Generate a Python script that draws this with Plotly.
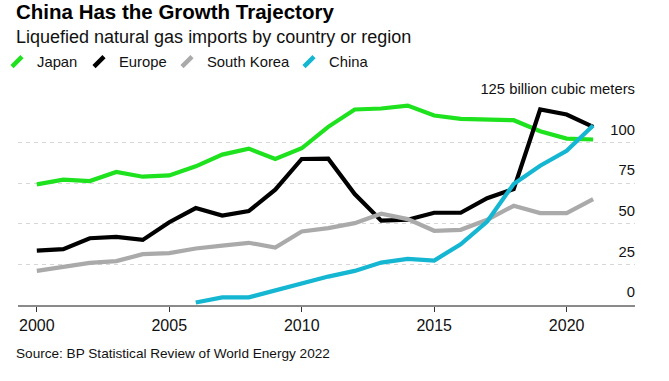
import plotly.graph_objects as go

years = list(range(2000, 2022))
japan = [74.3, 77.2, 76.3, 81.9, 79.0, 79.8, 85.4, 92.6, 96.3, 89.9, 96.5,
         109.7, 120.4, 121.0, 122.8, 116.7, 114.6, 114.4, 113.8, 107.0, 102.5, 101.9]
europe = [33.5, 34.4, 41.1, 42.0, 40.1, 51.0, 59.7, 55.1, 57.8, 71.0, 89.9,
          90.1, 68.3, 51.9, 52.5, 56.8, 56.8, 65.8, 71.4, 120.4, 117.3, 109.7]
south_korea = [21.0, 23.3, 25.9, 27.0, 31.3, 31.9, 34.8, 36.6, 38.3, 35.4, 45.3,
               47.3, 50.4, 56.2, 52.9, 45.7, 46.3, 52.5, 61.1, 56.6, 56.6, 65.2]
china = [None, None, None, None, None, None, 1.5, 4.7, 4.7, 8.8, 13.5,
         17.5, 21.0, 26.1, 28.4, 27.4, 37.4, 51.4, 74.5, 85.8, 95.0, 110.5]

series_names = ["Japan", "Europe", "South Korea", "China"]
series_values = [japan, europe, south_korea, china]
series_colors = ["#1fe21f", "#000000", "#aaaaaa", "#14b6d2"]

y_tickvals = [0, 25, 50, 75, 100, 125]
y_ticktext = ["0", "25", "50", "75", "100", "125 billion cubic meters"]
x_tickvals = [2000, 2005, 2010, 2015, 2020]

FONT = "Liberation Sans, Arial, sans-serif"

W, H = 669, 381
ML, MR, MT, MB = 18, 34, 102, 76
PW = W - ML - MR
PH = H - MT - MB


def px_to_paper_x(p):
    return (p - ML) / PW


def px_to_paper_y(p):
    return (H - MB - p) / PH


fig = go.Figure()

legend_ids = ["legend", "legend2", "legend3", "legend4"]
for name, vals, color in zip(series_names, series_values, series_colors):
    fig.add_trace(go.Scatter(
        x=years, y=vals, mode="lines", name=name,
        line=dict(color=color, width=4.2),
        showlegend=False, hoverinfo="skip",
    ))

for name, color, lid in zip(series_names, series_colors, legend_ids):
    fig.add_trace(go.Scatter(
        x=[None], y=[None], mode="markers", name=name,
        marker=dict(symbol="line-ne", size=10,
                    line=dict(color=color, width=4.5), color=color),
        showlegend=True, legend=lid,
    ))

legend_x_px = [-3, 79, 167, 289]
legend_common = dict(
    orientation="h", yanchor="middle", xanchor="left",
    font=dict(family=FONT, size=14.8, color="#111"),
    bgcolor="rgba(0,0,0,0)", borderwidth=0,
    itemclick=False, itemdoubleclick=False,
)
legend_layout = {}
for lid, xp in zip(legend_ids, legend_x_px):
    legend_layout[lid] = dict(legend_common, x=px_to_paper_x(xp), y=px_to_paper_y(62))

fig.update_layout(
    width=W, height=H,
    margin=dict(l=ML, r=MR, t=MT, b=MB, pad=0, autoexpand=False),
    paper_bgcolor="white", plot_bgcolor="white",
    font=dict(family=FONT, color="#111"),
    xaxis=dict(
        range=[1999.29, 2022.58], tickvals=x_tickvals,
        ticks="outside", ticklen=5, tickwidth=1, tickcolor="#333",
        showline=True, linecolor="#8a8a8a", linewidth=2,
        showgrid=False, zeroline=False,
        tickfont=dict(family=FONT, size=16, color="#111"),
        fixedrange=True,
    ),
    yaxis=dict(
        range=[0, 125], side="right",
        tickvals=y_tickvals, ticktext=y_ticktext,
        ticklabelposition="inside", ticklabeloverflow="allow",
        ticklabelstandoff=-3, ticklabelshift=-13,
        showgrid=True, gridcolor="#d6d6d6", gridwidth=1.3, griddash="4px,4px",
        zeroline=False, showline=False, ticks="",
        tickfont=dict(family=FONT, size=14.8, color="#111"),
        fixedrange=True,
    ),
    showlegend=True,
    **legend_layout,
    annotations=[
        dict(text="<b>China Has the Growth Trajectory</b>", xref="paper", yref="paper",
             x=px_to_paper_x(14), y=px_to_paper_y(11.5), xanchor="left", yanchor="middle",
             showarrow=False, font=dict(family=FONT, size=20.5, color="#000")),
        dict(text="Liquefied natural gas imports by country or region", xref="paper", yref="paper",
             x=px_to_paper_x(14), y=px_to_paper_y(37), xanchor="left", yanchor="middle",
             showarrow=False, font=dict(family=FONT, size=18, color="#111")),
        dict(text="Source: BP Statistical Review of World Energy 2022", xref="paper", yref="paper",
             x=px_to_paper_x(14), y=px_to_paper_y(353), xanchor="left", yanchor="middle",
             showarrow=False, font=dict(family=FONT, size=13.6, color="#111")),
    ],
)

fig.write_html("out.html", config={"displayModeBar": False},
               post_script="document.body.style.margin='0';")
